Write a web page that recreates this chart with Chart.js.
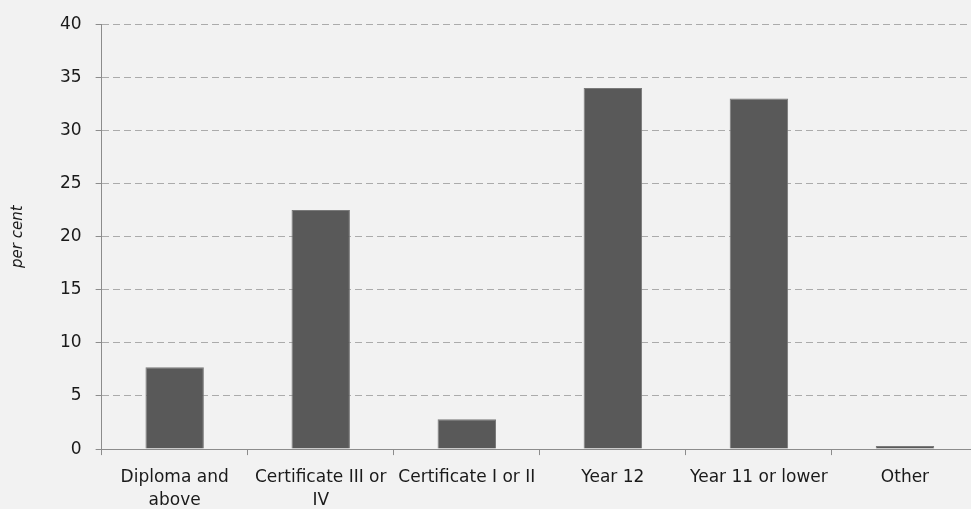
<!DOCTYPE html>
<html>
<head>
<meta charset="utf-8">
<script src="https://cdn.jsdelivr.net/npm/chart.js@4/dist/chart.umd.min.js"></script>
<style>
  html, body { margin: 0; padding: 0; background: #f2f2f2; overflow: hidden; }
  #wrap { width: 980px; height: 523px; }
</style>
</head>
<body>
<div id="wrap"><canvas id="eduChart"></canvas></div>
<script>
// categories (multi-line where the original wraps)
const categories = [
  ['Diploma and', 'above'],
  ['Certificate III or', 'IV'],
  'Certificate I or II',
  'Year 12',
  'Year 11 or lower',
  'Other'
];
const perCent = [7.7, 22.5, 2.8, 34.0, 33.0, 0.3];
const yTicks = [0, 5, 10, 15, 20, 25, 30, 35, 40];

Chart.defaults.font.family = '"DejaVu Sans", sans-serif';
Chart.defaults.color = '#1a1a1a';

const ctx = document.getElementById('eduChart').getContext('2d');
const eduChart = new Chart(ctx, {
  type: 'bar',
  data: {
    labels: categories,
    datasets: [{
      label: 'per cent',
      data: perCent,
      backgroundColor: '#595959',
      borderColor: '#7a7a7a',
      borderWidth: 1,
      categoryPercentage: 1,
      barPercentage: 0.4
    }]
  },
  options: {
    responsive: true,
    maintainAspectRatio: false,
    animation: false,
    layout: { padding: { top: 13, right: 2, left: 9, bottom: 0 } },
    plugins: {
      legend: { display: false },
      tooltip: { enabled: false }
    },
    scales: {
      x: {
        offset: true,
        grid: {
          offset: true,
          drawOnChartArea: false,
          drawTicks: true,
          tickLength: 6,
          tickColor: '#8c8c8c',
          tickWidth: 1
        },
        border: { color: '#8c8c8c', width: 1 },
        ticks: {
          autoSkip: false,
          maxRotation: 0,
          padding: 11,
          font: { size: 17, lineHeight: 1.35 }
        }
      },
      y: {
        min: 0,
        max: 40,
        afterBuildTicks: (axis) => { axis.ticks = yTicks.map(v => ({ value: v })); },
        grid: {
          color: '#ababab',
          lineWidth: 1,
          drawTicks: true,
          tickLength: 6,
          tickColor: '#8c8c8c',
          tickBorderDash: []
        },
        border: { color: '#8c8c8c', width: 1, dash: [7, 4] },
        ticks: {
          padding: 14,
          font: { size: 17 }
        },
        title: {
          display: true,
          text: 'per cent',
          padding: { top: 0, bottom: 19 },
          font: { size: 15, style: 'italic' }
        }
      }
    }
  }
});
</script>
</body>
</html>
